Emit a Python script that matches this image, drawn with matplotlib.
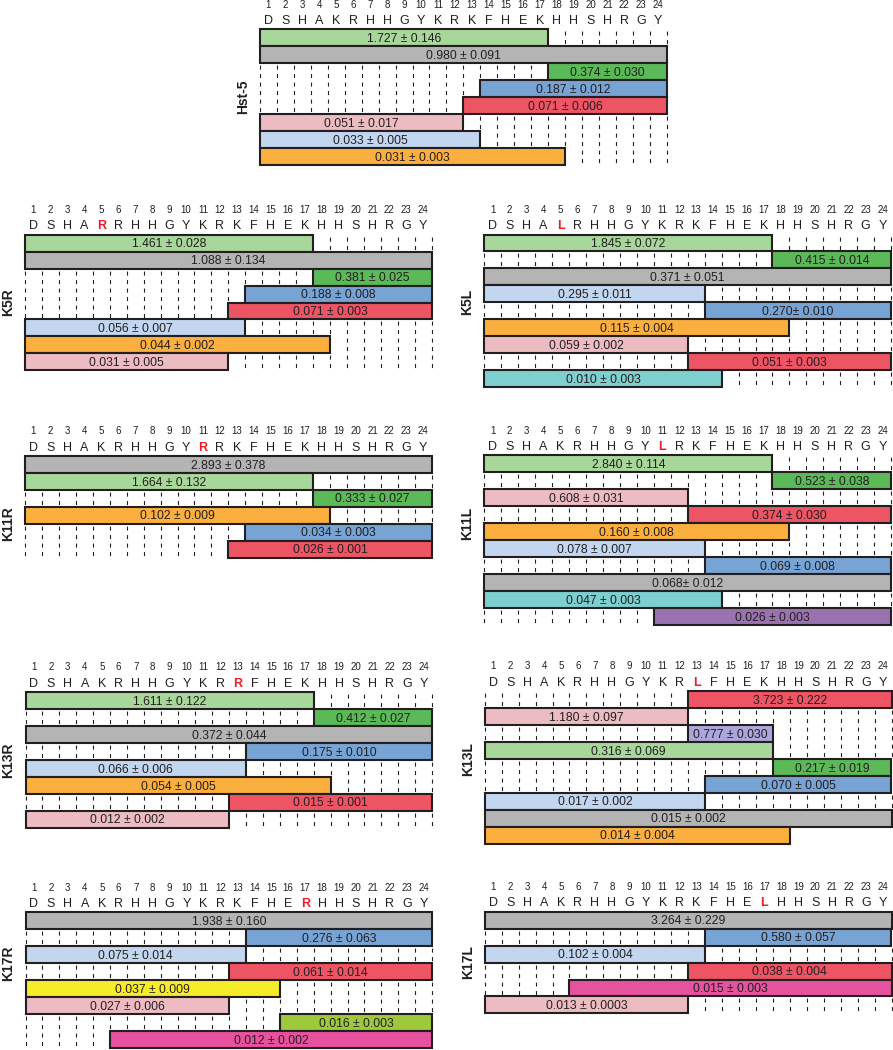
import matplotlib
matplotlib.use("Agg")
import matplotlib.pyplot as plt

plt.rcParams['font.family'] = ['Liberation Sans', 'DejaVu Sans']
plt.rcParams['lines.scale_dashes'] = False

# Hst-5 sequence
seq = list("DSHAKRHHGYKRKFHEKHHSHRGY")

# fragment (first, last residue) -> colour
frag_colors = {
    (1, 17): '#a8d79b', (1, 24): '#b4b4b4', (18, 24): '#5cb958',
    (14, 24): '#78a3d5', (13, 24): '#ed5464', (1, 12): '#ecbcc2',
    (1, 13): '#c2d6f0', (1, 18): '#fbaf3f', (1, 14): '#7dcfd0',
    (11, 24): '#9a72b0', (13, 17): '#aba6db', (1, 15): '#f6ec2a',
    (16, 24): '#9ec93c', (6, 24): '#e6529e',
}

hst5_frags = [(1, 17), (1, 24), (18, 24), (14, 24), (13, 24), (1, 12), (1, 13), (1, 18)]
hst5_labels = ["1.727 ± 0.146", "0.980 ± 0.091", "0.374 ± 0.030", "0.187 ± 0.012",
               "0.071 ± 0.006", "0.051 ± 0.017", "0.033 ± 0.005", "0.031 ± 0.003"]

k5r_frags = [(1, 17), (1, 24), (18, 24), (14, 24), (13, 24), (1, 13), (1, 18), (1, 12)]
k5r_labels = ["1.461 ± 0.028", "1.088 ± 0.134", "0.381 ± 0.025", "0.188 ± 0.008",
              "0.071 ± 0.003", "0.056 ± 0.007", "0.044 ± 0.002", "0.031 ± 0.005"]

k5l_frags = [(1, 17), (18, 24), (1, 24), (1, 13), (14, 24), (1, 18), (1, 12), (13, 24), (1, 14)]
k5l_labels = ["1.845 ± 0.072", "0.415 ± 0.014", "0.371 ± 0.051", "0.295 ± 0.011",
              "0.270± 0.010", "0.115 ± 0.004", "0.059 ± 0.002", "0.051 ± 0.003",
              "0.010 ± 0.003"]

k11r_frags = [(1, 24), (1, 17), (18, 24), (1, 18), (14, 24), (13, 24)]
k11r_labels = ["2.893 ± 0.378", "1.664 ± 0.132", "0.333 ± 0.027", "0.102 ± 0.009",
               "0.034 ± 0.003", "0.026 ± 0.001"]

k11l_frags = [(1, 17), (18, 24), (1, 12), (13, 24), (1, 18), (1, 13), (14, 24), (1, 24),
              (1, 14), (11, 24)]
k11l_labels = ["2.840 ± 0.114", "0.523 ± 0.038", "0.608 ± 0.031", "0.374 ± 0.030",
               "0.160 ± 0.008", "0.078 ± 0.007", "0.069 ± 0.008", "0.068± 0.012",
               "0.047 ± 0.003", "0.026 ± 0.003"]

k13r_frags = [(1, 17), (18, 24), (1, 24), (14, 24), (1, 13), (1, 18), (13, 24), (1, 12)]
k13r_labels = ["1.611 ± 0.122", "0.412 ± 0.027", "0.372 ± 0.044", "0.175 ± 0.010",
               "0.066 ± 0.006", "0.054 ± 0.005", "0.015 ± 0.001", "0.012 ± 0.002"]

k13l_frags = [(13, 24), (1, 12), (13, 17), (1, 17), (18, 24), (14, 24), (1, 13), (1, 24), (1, 18)]
k13l_labels = ["3.723 ± 0.222", "1.180 ± 0.097", "0.777 ± 0.030", "0.316 ± 0.069",
               "0.217 ± 0.019", "0.070 ± 0.005", "0.017 ± 0.002", "0.015 ± 0.002",
               "0.014 ± 0.004"]

k17r_frags = [(1, 24), (14, 24), (1, 13), (13, 24), (1, 15), (1, 12), (16, 24), (6, 24)]
k17r_labels = ["1.938 ± 0.160", "0.276 ± 0.063", "0.075 ± 0.014", "0.061 ± 0.014",
               "0.037 ± 0.009", "0.027 ± 0.006", "0.016 ± 0.003", "0.012 ± 0.002"]

k17l_frags = [(1, 24), (14, 24), (1, 13), (13, 24), (6, 24), (1, 12)]
k17l_labels = ["3.264 ± 0.229", "0.580 ± 0.057", "0.102 ± 0.004", "0.038 ± 0.004",
               "0.015 ± 0.003", "0.013 ± 0.0003"]

# name, fragments, labels, mutation (position, residue)
panels = [
    ("Hst-5", hst5_frags, hst5_labels, None),
    ("K5R", k5r_frags, k5r_labels, (5, "R")),
    ("K5L", k5l_frags, k5l_labels, (5, "L")),
    ("K11R", k11r_frags, k11r_labels, (11, "R")),
    ("K11L", k11l_frags, k11l_labels, (11, "L")),
    ("K13R", k13r_frags, k13r_labels, (13, "R")),
    ("K13L", k13l_frags, k13l_labels, (13, "L")),
    ("K17R", k17r_frags, k17r_labels, (17, "R")),
    ("K17L", k17l_frags, k17l_labels, (17, "L")),
]

# layout in pixels: left edge, top of first row, row for the side label
layout = {
    "Hst-5": (260, 29.3, 4), "K5R": (25, 234.7, 4), "K5L": (484.3, 234.5, 4),
    "K11R": (25, 455.8, 4), "K11L": (484.3, 455.2, 4),
    "K13R": (25.5, 692, 4), "K13L": (484.7, 691, 4),
    "K17R": (25.5, 912.5, 3), "K17L": (484.7, 911.7, 3),
}
no_dash = {("K13L", 8)}  # this row has no guide dashes in the original

W, H = 893, 1050
CELL = 16.95
INK = '#231f20'

fig = plt.figure(figsize=(W / 100, H / 100), dpi=100)

for name, frags, labels, mut in panels:
    left, top, lab_row = layout[name]
    n = len(frags)
    ax = fig.add_axes([left / W, 1 - (top + n * CELL) / H, 24 * CELL / W, n * CELL / H])
    ax.set_xlim(0, 24)
    ax.set_ylim(n, 0)
    ax.axis('off')

    # dashed guides in the empty part of each row
    for i, (a, b) in enumerate(frags):
        if (name, i) in no_dash:
            continue
        xs = [k for k in range(25) if k < a - 1 or k > b]
        if xs:
            ax.vlines(xs, i, i + 1, colors=INK, linewidth=0.8,
                      linestyles=[(4.6, (2.9, 3.2))], clip_on=False, zorder=1)

    starts = [a - 1 for a, b in frags]
    widths = [b - a + 1 for a, b in frags]
    cols = [frag_colors[f] for f in frags]
    bars = ax.barh([i + 0.5 for i in range(n)], widths, left=starts, height=1,
                   color=cols, edgecolor=INK, linewidth=1.5, zorder=2)
    for p in bars:
        p.set_clip_on(False)
    for i, lab in enumerate(labels):
        ax.text(starts[i] + widths[i] / 2, i + 0.5 + 0.255, lab, ha='center',
                va='baseline', fontsize=8.7, color=INK, zorder=3)

    # sequence header
    for k in range(24):
        ax.text(k + 0.5, -1.28, str(k + 1), ha='center', va='baseline',
                fontsize=7, color=INK, clip_on=False)
        res, col, wt = seq[k], INK, 'normal'
        if mut is not None and mut[0] == k + 1:
            res, col, wt = mut[1], '#ee1c25', 'bold'
        ax.text(k + 0.5, -0.31, res, ha='center', va='baseline', fontsize=9,
                color=col, fontweight=wt, clip_on=False)

    ax.text(-1.0, lab_row, name, rotation=90, ha='center', va='center',
            fontsize=10, fontweight='bold', color=INK, clip_on=False)

fig.savefig("out.png", dpi=100, facecolor='white')
